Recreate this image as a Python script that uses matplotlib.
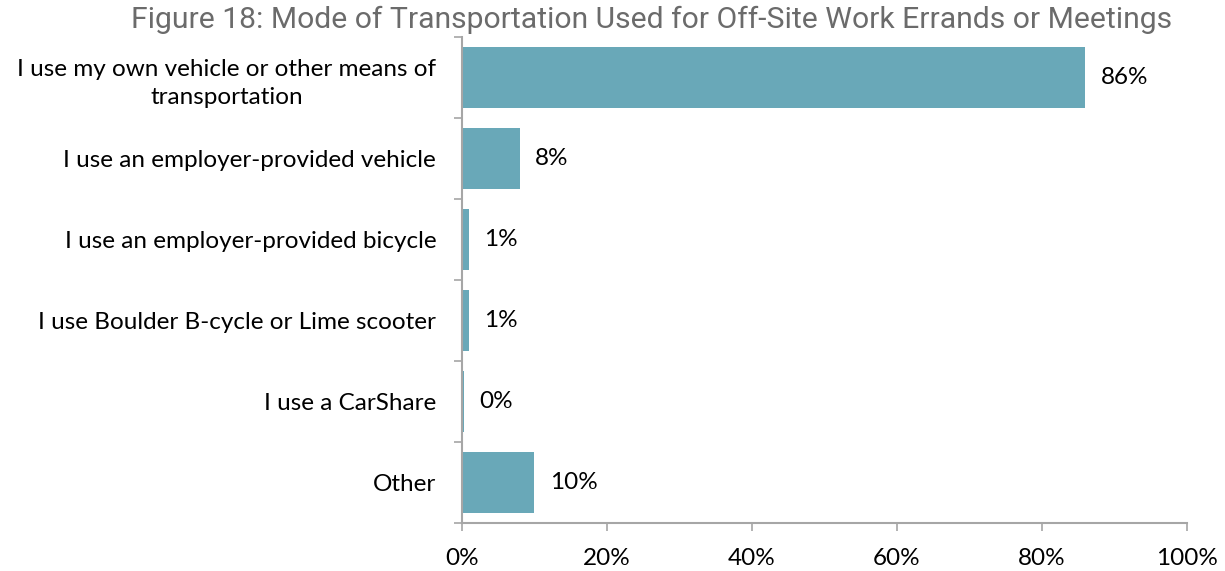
import matplotlib
matplotlib.use("Agg")
import matplotlib.pyplot as plt
import numpy as np

categories = [
    "I use my own vehicle or other means of\ntransportation",
    "I use an employer-provided vehicle",
    "I use an employer-provided bicycle",
    "I use Boulder B-cycle or Lime scooter",
    "I use a CarShare",
    "Other",
]
values = [86, 8, 1, 1, 0.3, 10]
labels = ["86%", "8%", "1%", "1%", "0%", "10%"]
xticks = [0, 20, 40, 60, 80, 100]
xticklabels = ["0%", "20%", "40%", "60%", "80%", "100%"]

bar_color = "#69a8b8"
axis_color = "#a6a6a6"
font = ["Lato", "DejaVu Sans"]
fs = 17.5

fig = plt.figure(figsize=(12.25, 5.71), dpi=100)
ax = fig.add_axes([0.377, 0.084, 0.592, 0.851])

y = np.arange(len(categories))
ax.barh(y, values, height=0.75, color=bar_color)
ax.set_ylim(len(categories) - 0.5, -0.5)
ax.set_xlim(0, 100)

for yi, v, lab in zip(y, values, labels):
    ax.text(v + 2.1, yi, lab, va="center", ha="left", fontsize=fs, family=font, color="black")

ax.set_yticks(y)
ax.set_yticklabels(categories, fontsize=fs, family=font)
for t in ax.get_yticklabels():
    t.set_multialignment("center")
    t.set_linespacing(1.45)
ax.set_yticks(np.arange(-0.5, len(categories)), minor=True)
ax.tick_params(axis="y", which="major", length=0, pad=18.5)
ax.tick_params(axis="y", which="minor", length=6, width=1.2, color=axis_color, direction="out")

ax.set_xticks(xticks)
ax.set_xticklabels(xticklabels, fontsize=fs, family=font)
ax.tick_params(axis="x", length=6, width=1.2, color=axis_color, direction="out", pad=12)

for s in ["top", "right"]:
    ax.spines[s].set_visible(False)
for s in ["left", "bottom"]:
    ax.spines[s].set_color(axis_color)
    ax.spines[s].set_linewidth(1.5)

fig.text(0.532, 0.965, "Figure 18: Mode of Transportation Used for Off-Site Work Errands or Meetings",
         ha="center", va="center", fontsize=21.7, color="#6b6b6b",
         family=["Roboto", "DejaVu Sans"])

fig.savefig("out.png", dpi=100)
